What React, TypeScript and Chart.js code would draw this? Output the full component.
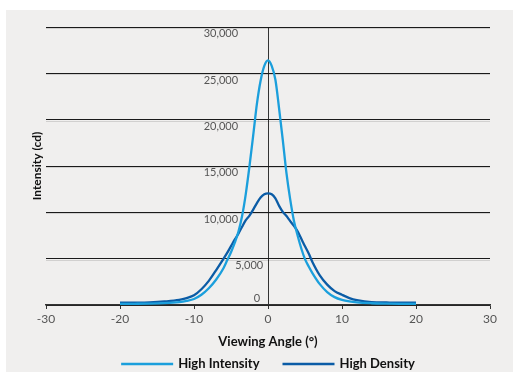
import React, { useEffect, useRef } from "react";
import { Chart, registerables } from "chart.js";

Chart.register(...registerables);

// ---------- data ----------
const angles = [
  -20, -18, -16, -14, -12, -11, -10, -9, -8, -7, -6, -5.5, -5, -4.5, -4, -3.5, -3, -2.5, -2, -1.5, -1, -0.5,
  0, 0.5, 1, 1.5, 2, 2.5, 3, 3.5, 4, 4.5, 5, 5.5, 6, 7, 8, 9, 10, 11, 12, 14, 16, 18, 20,
];

const highIntensity = [
  120, 130, 150, 200, 320, 450, 650, 1100, 1800, 2750, 4000, 4850, 5700, 6700, 7900, 9600, 12000, 15000, 18300,
  21700, 24200, 25800, 26400, 25800, 24300, 21200, 17800, 14200, 11400, 9100, 7500, 6100, 4950, 4150, 3450, 2250,
  1400, 850, 550, 380, 280, 190, 150, 130, 120,
];

const highDensity = [
  250, 260, 290, 380, 550, 750, 1050, 1700, 2600, 3770, 5000, 5650, 6350, 7050, 7700, 8450, 9150, 9650, 10300,
  11000, 11600, 11950, 12050, 11950, 11500, 10700, 10050, 9600, 9050, 8550, 7950, 7150, 6330, 5550, 4650, 3200,
  2200, 1500, 1100, 750, 520, 300, 270, 255, 250,
];

const seriesNames = ["High Intensity", "High Density"];
const seriesColors = ["#1b9fdc", "#0b5ca6"];

const xTickValues = [-30, -20, -10, 0, 10, 20, 30];
const yTickValues = [0, 5000, 10000, 15000, 20000, 25000, 30000];
const yTickLabels = ["0", "5,000", "10,000", "15,000", "20,000", "25,000", "30,000"];

const xTitle = "Viewing Angle (°)";
const yTitle = "Intensity (cd)";

// ---------- layout constants (not data) ----------
const W = 513;
const H = 372;
const FONT = "Lato, 'Open Sans', sans-serif";
// right edge of each y label, expressed on the x axis
const yLabelAnchor = [-1.05, -0.65, -4.05, -4.05, -4.05, -4.05, -4.05];

const gridShadow = {
  id: "gridShadow",
  beforeDatasetsDraw(chart: any) {
    const { ctx, chartArea, scales } = chart;
    ctx.save();
    ctx.strokeStyle = "rgba(0,0,0,0.13)";
    ctx.lineWidth = 1;
    yTickValues.forEach((v) => {
      if (v === 0) return;
      const y = Math.round(scales.y.getPixelForValue(v)) + 1.5;
      ctx.beginPath();
      ctx.moveTo(chartArea.left, y);
      ctx.lineTo(chartArea.right, y);
      ctx.stroke();
    });
    ctx.restore();
  },
};

const yLabels = {
  id: "yLabels",
  afterDraw(chart: any) {
    const { ctx, scales } = chart;
    ctx.save();
    ctx.font = `11px ${FONT}`;
    ctx.fillStyle = "#555555";
    ctx.textAlign = "right";
    ctx.textBaseline = "middle";
    yTickValues.forEach((v, i) => {
      const x = scales.x.getPixelForValue(yLabelAnchor[i]);
      const y = scales.y.getPixelForValue(v) + (v === 0 ? -7 : 6.7);
      ctx.fillText(yTickLabels[i], x, y);
    });
    ctx.restore();
  },
};

const bottomLegend = {
  id: "bottomLegend",
  afterDraw(chart: any) {
    const { ctx, chartArea } = chart;
    const lineW = 52;
    const gapText = 5;
    const gapItem = 23;
    const y = 364;
    ctx.save();
    ctx.font = `bold 13px ${FONT}`;
    const widths = seriesNames.map((n) => lineW + gapText + ctx.measureText(n).width);
    const total = widths.reduce((a, b) => a + b, 0) + gapItem * (widths.length - 1);
    let x = (chartArea.left + chartArea.right) / 2 - total / 2;
    seriesNames.forEach((name, i) => {
      ctx.strokeStyle = seriesColors[i];
      ctx.lineWidth = 2.5;
      ctx.beginPath();
      ctx.moveTo(x, y);
      ctx.lineTo(x + lineW, y);
      ctx.stroke();
      ctx.fillStyle = "#111111";
      ctx.textAlign = "left";
      ctx.textBaseline = "middle";
      ctx.fillText(name, x + lineW + gapText, y);
      x += widths[i] + gapItem;
    });
    ctx.restore();
  },
};

export default function App() {
  const canvasRef = useRef<HTMLCanvasElement | null>(null);

  useEffect(() => {
    const canvas = canvasRef.current;
    if (!canvas) return;
    Chart.defaults.font.family = FONT;

    const chart = new Chart(canvas, {
      type: "line",
      data: {
        datasets: [
          {
            label: seriesNames[0],
            data: angles.map((a, i) => ({ x: a, y: highIntensity[i] })),
            borderColor: seriesColors[0],
            backgroundColor: seriesColors[0],
            borderWidth: 2.3,
            pointRadius: 0,
            fill: false,
            cubicInterpolationMode: "monotone",
          },
          {
            label: seriesNames[1],
            data: angles.map((a, i) => ({ x: a, y: highDensity[i] })),
            borderColor: seriesColors[1],
            backgroundColor: seriesColors[1],
            borderWidth: 2.3,
            pointRadius: 0,
            fill: false,
            cubicInterpolationMode: "monotone",
          },
        ],
      },
      options: {
        animation: false,
        responsive: false,
        devicePixelRatio: 1,
        layout: { padding: { left: 0, right: 23, top: 27, bottom: 20 } },
        plugins: {
          legend: { display: false },
          tooltip: { enabled: false },
          title: { display: false },
        },
        scales: {
          x: {
            type: "linear",
            min: -30,
            max: 30,
            afterBuildTicks: (s: any) => {
              s.ticks = xTickValues.map((v) => ({ value: v }));
            },
            afterFit: (s: any) => {
              s.height = 47;
            },
            ticks: {
              color: "#555555",
              font: { size: 12, family: FONT },
              padding: 3,
              maxRotation: 0,
            },
            grid: {
              color: (c: any) => (c.tick && c.tick.value === 0 ? "#333333" : "rgba(0,0,0,0)"),
              tickColor: "#333333",
              tickLength: 4,
              lineWidth: 1,
            },
            border: { display: true, color: "#333333", width: 1.5 },
            title: {
              display: true,
              text: xTitle,
              color: "#111111",
              font: { size: 13, weight: "bold", family: FONT },
              padding: { top: 4, bottom: 2 },
            },
          },
          y: {
            type: "linear",
            min: 0,
            max: 30000,
            afterBuildTicks: (s: any) => {
              s.ticks = yTickValues.map((v) => ({ value: v }));
            },
            afterFit: (s: any) => {
              s.width = 46;
            },
            ticks: { display: false },
            grid: {
              color: "#1a1a1a",
              lineWidth: 1,
              drawTicks: false,
            },
            border: { display: false },
            title: {
              display: true,
              text: yTitle,
              color: "#111111",
              font: { size: 12, weight: "bold", family: FONT },
              padding: { top: 30, bottom: 0 },
            },
          },
        },
      },
      plugins: [gridShadow, yLabels, bottomLegend],
    } as any);

    return () => {
      chart.destroy();
    };
  }, []);

  return (
    <div
      style={{
        position: "fixed",
        left: 0,
        top: 0,
        width: W,
        height: H,
        background: "#ffffff",
        overflow: "hidden",
      }}
    >
      <div
        style={{
          position: "absolute",
          left: 6,
          top: 10,
          right: 0,
          bottom: 0,
          background: "#f0efee",
        }}
      />
      <canvas
        ref={canvasRef}
        width={W}
        height={H}
        style={{ position: "absolute", left: 0, top: 0, width: W, height: H }}
      />
    </div>
  );
}
